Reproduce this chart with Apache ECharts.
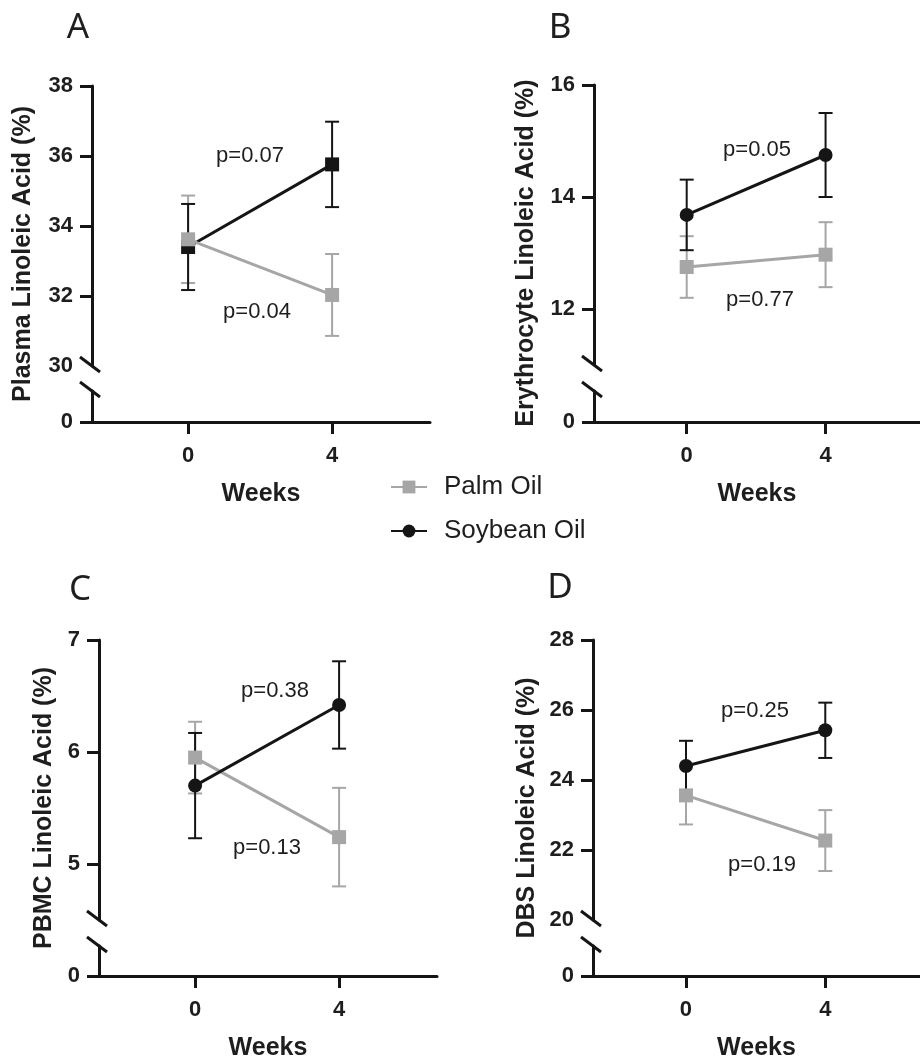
<!DOCTYPE html>
<html>
<head>
<meta charset="utf-8">
<script src="https://cdn.jsdelivr.net/npm/echarts@6/dist/echarts.min.js"></script>
<style>
  html, body { margin: 0; padding: 0; background: #fff; }
  #main { width: 920px; height: 1062px; }
</style>
</head>
<body>
<div id="main"></div>
<script>
// x axis (weeks)
const weeks = [0, 4]
const xTicks = [0, 4]

// A: plasma
const plasmaPalm = [33.62, 32.03]
const plasmaPalmErr = [1.25, 1.17]
const plasmaSoy = [33.4, 35.76]
const plasmaSoyErr = [1.23, 1.22]
const plasmaTicks = [32, 34, 36, 38]
const plasmaLabels = [30, 32, 34, 36, 38]

// B: erythrocyte
const eryPalm = [12.75, 12.97]
const eryPalmErr = [0.55, 0.58]
const erySoy = [13.68, 14.75]
const erySoyErr = [0.63, 0.75]
const eryTicks = [12, 14, 16]

// C: PBMC
const pbmcPalm = [5.95, 5.24]
const pbmcPalmErr = [0.32, 0.44]
const pbmcSoy = [5.7, 6.42]
const pbmcSoyErr = [0.47, 0.39]
const pbmcTicks = [5, 6, 7]

// D: DBS
const dbsPalm = [23.56, 22.27]
const dbsPalmErr = [0.83, 0.87]
const dbsSoy = [24.4, 25.42]
const dbsSoyErr = [0.72, 0.79]
const dbsTicks = [22, 24, 26, 28]
const dbsLabels = [20, 22, 24, 26, 28]

const seriesNames = ['Palm Oil', 'Soybean Oil']

const font = '"Liberation Sans", Arial, sans-serif'
const black = '#151515'
const gray = '#a6a6a6'
const textColor = '#1e1e1e'
const xMin = -2.67
const xMax = 6.72

// B first so the legend takes its circle marker for soybean
const panels = [
  {
    id: 'B', yName: 'Erythrocyte Linoleic Acid (%)',
    palm: eryPalm, palmErr: eryPalmErr, soy: erySoy, soyErr: erySoyErr,
    soySymbol: 'circle', palmOnTop: false,
    yMin: 11, yMax: 16, ticks: eryTicks, labels: eryTicks,
    pSoy: 'p=0.05', pPalm: 'p=0.77',
    left: 594, top: 85, base: 422,
    letter: [560, 28], yNamePos: [526, 253], pSoyPos: [757, 150], pPalmPos: [760, 300]
  },
  {
    id: 'A', yName: 'Plasma Linoleic Acid (%)',
    palm: plasmaPalm, palmErr: plasmaPalmErr, soy: plasmaSoy, soyErr: plasmaSoyErr,
    soySymbol: 'rect', palmOnTop: true,
    yMin: 30, yMax: 38, ticks: plasmaTicks, labels: plasmaLabels,
    pSoy: 'p=0.07', pPalm: 'p=0.04',
    left: 92, top: 86, base: 422,
    letter: [78, 28], yNamePos: [23, 254], pSoyPos: [250, 156], pPalmPos: [257, 312]
  },
  {
    id: 'C', yName: 'PBMC Linoleic Acid (%)',
    palm: pbmcPalm, palmErr: pbmcPalmErr, soy: pbmcSoy, soyErr: pbmcSoyErr,
    soySymbol: 'circle', palmOnTop: false,
    yMin: 4.5, yMax: 7, ticks: pbmcTicks, labels: pbmcTicks,
    pSoy: 'p=0.38', pPalm: 'p=0.13',
    left: 99, top: 640, base: 977,
    letter: [80, 590], yNamePos: [44, 808], pSoyPos: [275, 691], pPalmPos: [267, 848]
  },
  {
    id: 'D', yName: 'DBS Linoleic Acid (%)',
    palm: dbsPalm, palmErr: dbsPalmErr, soy: dbsSoy, soyErr: dbsSoyErr,
    soySymbol: 'circle', palmOnTop: false,
    yMin: 20, yMax: 28, ticks: dbsTicks, labels: dbsLabels,
    pSoy: 'p=0.25', pPalm: 'p=0.19',
    left: 593, top: 640, base: 977,
    letter: [560, 588], yNamePos: [527, 808], pSoyPos: [755, 711], pPalmPos: [762, 865]
  }
]

function errorBars (color) {
  return function (params, api) {
    const x = api.value(0)
    const lo = api.coord([x, api.value(1)])
    const hi = api.coord([x, api.value(2)])
    const w = 7
    const style = { stroke: color, lineWidth: 2 }
    return {
      type: 'group',
      children: [
        { type: 'line', shape: { x1: lo[0], y1: lo[1], x2: hi[0], y2: hi[1] }, style },
        { type: 'line', shape: { x1: hi[0] - w, y1: hi[1], x2: hi[0] + w, y2: hi[1] }, style },
        { type: 'line', shape: { x1: lo[0] - w, y1: lo[1], x2: lo[0] + w, y2: lo[1] }, style }
      ]
    }
  }
}

// axis break slash through the point (x, y)
function breakSlash (params, api) {
  const p = api.coord([api.value(0), api.value(1)])
  return {
    type: 'line',
    shape: { x1: p[0] - 12, y1: p[1] - 9, x2: p[0] + 8, y2: p[1] + 6 },
    style: { stroke: black, lineWidth: 3 }
  }
}

const grid = []
const xAxis = []
const yAxis = []
const series = []
const graphic = []

const axisLine = { show: true, onZero: false, lineStyle: { color: black, width: 3 } }
const tickStyle = { color: black, width: 3 }
const labelStyle = { color: textColor, fontFamily: font, fontWeight: 'bold', fontSize: 22 }

panels.forEach((p, i) => {
  const up = i * 2
  const lo = i * 2 + 1
  const width = 338
  grid.push({ left: p.left, top: p.top, width: width, height: 280 })
  grid.push({ left: p.left, top: p.base - 31, width: width, height: 31 })

  xAxis.push({ gridIndex: up, type: 'value', min: xMin, max: xMax, show: false })
  xAxis.push({
    gridIndex: lo, type: 'value', min: xMin, max: xMax,
    axisLine: axisLine,
    axisTick: { show: true, customValues: xTicks, length: 12, lineStyle: tickStyle },
    axisLabel: { customValues: xTicks, margin: 23, ...labelStyle },
    splitLine: { show: false },
    name: 'Weeks', nameLocation: 'middle', nameGap: 60,
    nameTextStyle: { color: textColor, fontFamily: font, fontWeight: 'bold', fontSize: 25 }
  })

  yAxis.push({
    gridIndex: up, type: 'value', min: p.yMin, max: p.yMax,
    axisLine: axisLine,
    axisTick: { show: true, customValues: p.ticks, length: 12, lineStyle: tickStyle },
    axisLabel: { customValues: p.labels, margin: 19, ...labelStyle },
    splitLine: { show: false }
  })
  yAxis.push({
    gridIndex: lo, type: 'value', min: 0, max: 1,
    axisLine: axisLine,
    axisTick: { show: true, customValues: [0], length: 12, lineStyle: tickStyle },
    axisLabel: { customValues: [0], margin: 19, ...labelStyle },
    splitLine: { show: false }
  })

  series.push({
    name: seriesNames[1], type: 'line', xAxisIndex: up, yAxisIndex: up,
    data: weeks.map((w, j) => [w, p.soy[j]]),
    symbol: p.soySymbol, symbolSize: 14, color: black,
    lineStyle: { color: black, width: 3 }, z: 4, animation: false
  })
  series.push({
    name: seriesNames[0], type: 'line', xAxisIndex: up, yAxisIndex: up,
    data: weeks.map((w, j) => [w, p.palm[j]]),
    symbol: 'rect', symbolSize: 14, color: gray,
    lineStyle: { color: gray, width: 3 }, z: p.palmOnTop ? 5 : 3, animation: false
  })
})

panels.forEach((p, i) => {
  const up = i * 2
  const lo = i * 2 + 1
  series.push({
    type: 'custom', xAxisIndex: up, yAxisIndex: up, z: 2, animation: false,
    renderItem: errorBars(gray), encode: { x: 0, y: [1, 2] },
    data: weeks.map((w, j) => [w, p.palm[j] - p.palmErr[j], p.palm[j] + p.palmErr[j]])
  })
  series.push({
    type: 'custom', xAxisIndex: up, yAxisIndex: up, z: 2, animation: false,
    renderItem: errorBars(black), encode: { x: 0, y: [1, 2] },
    data: weeks.map((w, j) => [w, p.soy[j] - p.soyErr[j], p.soy[j] + p.soyErr[j]])
  })
  series.push({
    type: 'custom', xAxisIndex: up, yAxisIndex: up, z: 6, animation: false,
    renderItem: breakSlash, data: [[xMin, p.yMin]]
  })
  series.push({
    type: 'custom', xAxisIndex: lo, yAxisIndex: lo, z: 6, animation: false,
    renderItem: breakSlash, data: [[xMin, 1]]
  })

  graphic.push({
    type: 'text', x: p.letter[0], y: p.letter[1],
    style: { text: p.id, fontSize: 35, fontFamily: '"Noto Sans", sans-serif', fill: textColor, align: 'center', verticalAlign: 'middle' }
  })
  graphic.push({
    type: 'text', x: p.yNamePos[0], y: p.yNamePos[1], rotation: Math.PI / 2,
    style: { text: p.yName, fontSize: 25, fontWeight: 'bold', fontFamily: font, fill: textColor, align: 'center', verticalAlign: 'middle' }
  })
  graphic.push({
    type: 'text', x: p.pSoyPos[0], y: p.pSoyPos[1],
    style: { text: p.pSoy, fontSize: 22, fontFamily: font, fill: textColor, align: 'center', verticalAlign: 'middle' }
  })
  graphic.push({
    type: 'text', x: p.pPalmPos[0], y: p.pPalmPos[1],
    style: { text: p.pPalm, fontSize: 22, fontFamily: font, fill: textColor, align: 'center', verticalAlign: 'middle' }
  })
})

const chart = echarts.init(document.getElementById('main'))
chart.setOption({
  animation: false,
  backgroundColor: '#fff',
  legend: {
    data: seriesNames,
    orient: 'vertical', left: 385, top: 469,
    itemWidth: 36, itemHeight: 16, itemGap: 18,
    selectedMode: false,
    textStyle: { fontSize: 26, fontFamily: font, color: textColor, padding: [0, 0, 0, 12] }
  },
  grid: grid,
  xAxis: xAxis,
  yAxis: yAxis,
  series: series,
  graphic: graphic
})
</script>
</body>
</html>
